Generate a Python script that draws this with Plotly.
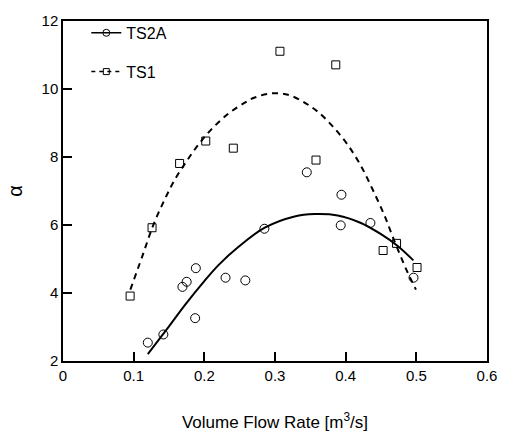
import plotly.graph_objects as go

# TS2A measured points (circles)
ts2a_x = [0.120, 0.142, 0.169, 0.175, 0.188, 0.187, 0.230, 0.258, 0.285, 0.345, 0.394, 0.393, 0.435, 0.496]
ts2a_y = [2.54, 2.78, 4.18, 4.33, 4.73, 3.26, 4.45, 4.37, 5.89, 7.55, 6.89, 5.99, 6.06, 4.45]

# TS1 measured points (squares)
ts1_x = [0.095, 0.126, 0.165, 0.202, 0.241, 0.307, 0.358, 0.386, 0.453, 0.472, 0.501]
ts1_y = [3.91, 5.92, 7.81, 8.47, 8.26, 11.11, 7.91, 10.71, 5.25, 5.46, 4.75]

# Fitted curves
fit2a_x = [0.120, 0.150, 0.173, 0.200, 0.220, 0.248, 0.2855, 0.3277, 0.356, 0.3887, 0.4216, 0.450, 0.4732, 0.4958]
fit2a_y = [2.20, 3.02, 3.66, 4.35, 4.82, 5.35, 5.92, 6.25, 6.32, 6.28, 6.06, 5.73, 5.39, 4.96]

fit1_x = [0.0953, 0.1117, 0.128, 0.1446, 0.1587, 0.175, 0.1915, 0.2103, 0.2338, 0.2573, 0.2714, 0.2948,
          0.3183, 0.3418, 0.3606, 0.3817, 0.4028, 0.4216, 0.438, 0.4545, 0.4686, 0.4873, 0.4995]
fit1_y = [4.10, 5.05, 6.01, 6.78, 7.35, 7.88, 8.36, 8.82, 9.27, 9.60, 9.75, 9.87,
          9.83, 9.60, 9.33, 8.90, 8.36, 7.74, 7.05, 6.30, 5.55, 4.62, 4.10]

FONT = "Liberation Sans, Arial, sans-serif"

fig = go.Figure()
fig.add_trace(go.Scatter(x=fit2a_x, y=fit2a_y, mode="lines", line=dict(color="black", width=2, shape="spline"),
                         showlegend=False, hoverinfo="skip"))
fig.add_trace(go.Scatter(x=fit1_x, y=fit1_y, mode="lines", line=dict(color="black", width=2, dash="6px,5px", shape="spline"),
                         showlegend=False, hoverinfo="skip"))
fig.add_trace(go.Scatter(x=ts2a_x, y=ts2a_y, mode="markers",
                         marker=dict(symbol="circle-open", size=9, color="black", line=dict(width=1, color="black")),
                         showlegend=False))
fig.add_trace(go.Scatter(x=ts1_x, y=ts1_y, mode="markers",
                         marker=dict(symbol="square-open", size=8, color="black", line=dict(width=1, color="black")),
                         showlegend=False))
# legend entries
fig.add_trace(go.Scatter(x=[None], y=[None], mode="lines+markers", name="TS2A", legendgroup="a",
                         line=dict(color="black", width=1.5),
                         marker=dict(symbol="circle-open", size=7, color="black", line=dict(width=1))))
fig.add_trace(go.Scatter(x=[None], y=[None], mode="lines+markers", name="TS1", legendgroup="b",
                         line=dict(color="black", width=1.5, dash="4px,4px"),
                         marker=dict(symbol="square-open", size=6, color="black", line=dict(width=1))))

fig.update_layout(
    width=509, height=441,
    margin=dict(l=63, r=18, t=15, b=78),
    paper_bgcolor="white", plot_bgcolor="white",
    font=dict(family=FONT, size=15, color="black"),
    legend=dict(x=0.055, y=1.015, xanchor="left", yanchor="top", bgcolor="rgba(0,0,0,0)",
                font=dict(size=16), tracegroupgap=15, itemwidth=30),
    xaxis=dict(range=[0, 0.6], dtick=0.1, tick0=0, ticks="inside", ticklen=9, tickwidth=1.5, tickcolor="black",
               showline=True, linecolor="black", linewidth=1.5, mirror=True, showgrid=False, zeroline=False,
               tickformat=".1~f",
               title=dict(text="Volume Flow Rate [m<sup>3</sup>/s]", font=dict(size=17), standoff=33)),
    yaxis=dict(range=[2, 12], dtick=2, tick0=2, ticks="inside", ticklen=9, tickwidth=1.5, tickcolor="black",
               showline=True, linecolor="black", linewidth=1.5, mirror=True, showgrid=False, zeroline=False,
               title=dict(text="α", font=dict(size=20), standoff=14)),
)

fig.write_html("out.html", config={"displayModeBar": False},
               post_script="document.body.style.margin='0';document.body.style.overflow='hidden';")
